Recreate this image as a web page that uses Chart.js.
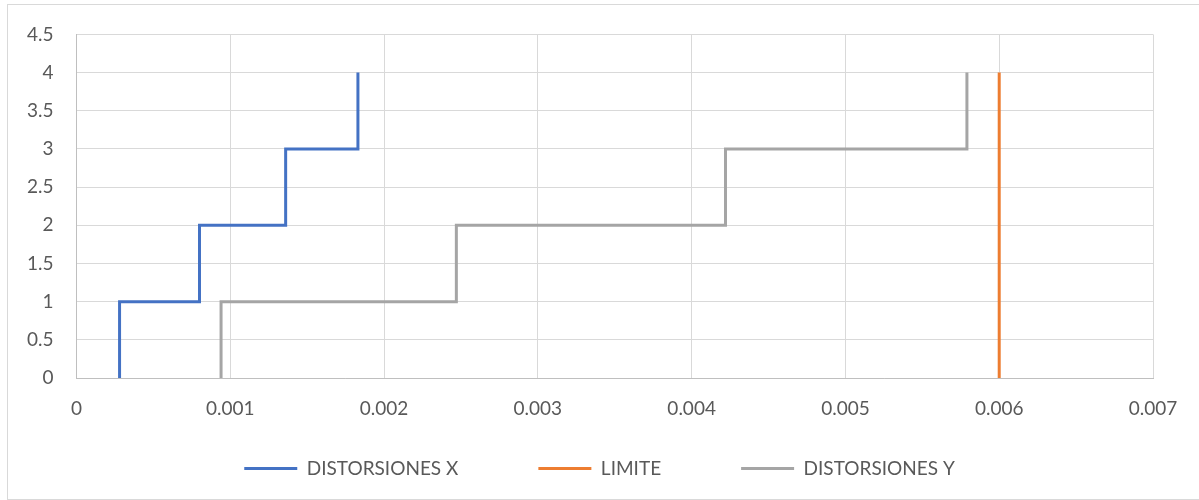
<!DOCTYPE html>
<html>
<head>
<meta charset="utf-8">
<script src="https://cdn.jsdelivr.net/npm/chart.js@4"></script>
<style>
  html, body { margin: 0; padding: 0; background: #ffffff; overflow: hidden; }
  #wrap { position: relative; width: 1199px; height: 500px; }
  #frame {
    position: absolute; left: 7px; top: 4px; width: 1200px; height: 494px;
    border: 1px solid #d9d9d9; box-sizing: content-box;
  }
  #chart { position: absolute; left: 0; top: 0; }
</style>
</head>
<body>
<div id="wrap">
  <div id="frame"></div>
  <canvas id="chart" width="1199" height="500"></canvas>
</div>
<script>
// Storey levels (step profile: each level appears twice)
const levels = [0, 1, 1, 2, 2, 3, 3, 4];

// Drift values per step, direction X
const driftX = [0.00028, 0.00028, 0.0008, 0.0008, 0.00136, 0.00136, 0.00183, 0.00183];

// Drift values per step, direction Y
const driftY = [0.00094, 0.00094, 0.00247, 0.00247, 0.00422, 0.00422, 0.00579, 0.00579];

// Allowed drift limit
const limitX = [0.006, 0.006];
const limitLevels = [0, 4];

// Axis ticks
const xTicks = [0, 0.001, 0.002, 0.003, 0.004, 0.005, 0.006, 0.007];
const yTicks = [0, 0.5, 1, 1.5, 2, 2.5, 3, 3.5, 4, 4.5];

const seriesNames = ['DISTORSIONES X', 'LIMITE', 'DISTORSIONES Y'];
const seriesColors = ['#4472C4', '#ED7D31', '#A5A5A5'];

const toPoints = (xs, ys) => xs.map((x, i) => ({ x: x, y: ys[i] }));

Chart.defaults.font.family = 'Lato, "Open Sans", sans-serif';
Chart.defaults.color = '#595959';

const lineStyle = (i) => ({
  label: seriesNames[i],
  borderColor: seriesColors[i],
  backgroundColor: seriesColors[i],
  borderWidth: 3,
  pointRadius: 0,
  pointHoverRadius: 0,
  tension: 0,
  fill: false,
  showLine: true
});

new Chart(document.getElementById('chart'), {
  type: 'line',
  data: {
    datasets: [
      Object.assign(lineStyle(0), { data: toPoints(driftX, levels) }),
      Object.assign(lineStyle(1), { data: toPoints(limitX, limitLevels) }),
      Object.assign(lineStyle(2), { data: toPoints(driftY, levels) })
    ]
  },
  options: {
    responsive: false,
    animation: false,
    events: [],
    layout: { padding: { left: 0, right: 0, top: 34, bottom: 12 } },
    plugins: {
      tooltip: { enabled: false },
      legend: {
        position: 'bottom',
        labels: {
          font: { size: 19 },
          color: '#595959',
          boxWidth: 53,
          boxHeight: 3,
          padding: 80,
          generateLabels: (chart) =>
            Chart.defaults.plugins.legend.labels.generateLabels(chart).map((l, i) =>
              Object.assign(l, { lineWidth: 0, fillStyle: seriesColors[i] }))
        }
      }
    },
    scales: {
      x: {
        type: 'linear',
        position: 'bottom',
        min: xTicks[0],
        max: xTicks[xTicks.length - 1],
        afterBuildTicks: (s) => { s.ticks = xTicks.map(v => ({ value: v })); },
        afterFit: (s) => { s.height = 1; },
        grid: {
          color: (ctx) => ctx.index === 0 ? '#bfbfbf' : '#d9d9d9',
          lineWidth: 1,
          drawTicks: false
        },
        border: { color: '#bfbfbf', width: 1 },
        ticks: {
          // mirrored labels are not clipped to the thin axis box
          mirror: true,
          padding: -42,
          maxRotation: 0,
          font: { size: 19 },
          color: '#595959',
          callback: (v) => String(Number(v.toFixed(3)))
        }
      },
      y: {
        type: 'linear',
        position: 'left',
        min: yTicks[0],
        max: yTicks[yTicks.length - 1],
        afterBuildTicks: (s) => { s.ticks = yTicks.map(v => ({ value: v })); },
        afterFit: (s) => { s.width = 76.5; },
        grid: { color: '#d9d9d9', lineWidth: 1, drawTicks: false },
        border: { color: '#bfbfbf', width: 1 },
        ticks: {
          padding: 23,
          font: { size: 19 },
          color: '#595959',
          callback: (v) => String(v)
        }
      },
      yRight: {
        type: 'linear',
        position: 'right',
        display: true,
        afterFit: (s) => { s.width = 46; },
        grid: { display: false, drawTicks: false },
        border: { display: false },
        ticks: { display: false }
      }
    }
  }
});
</script>
</body>
</html>
